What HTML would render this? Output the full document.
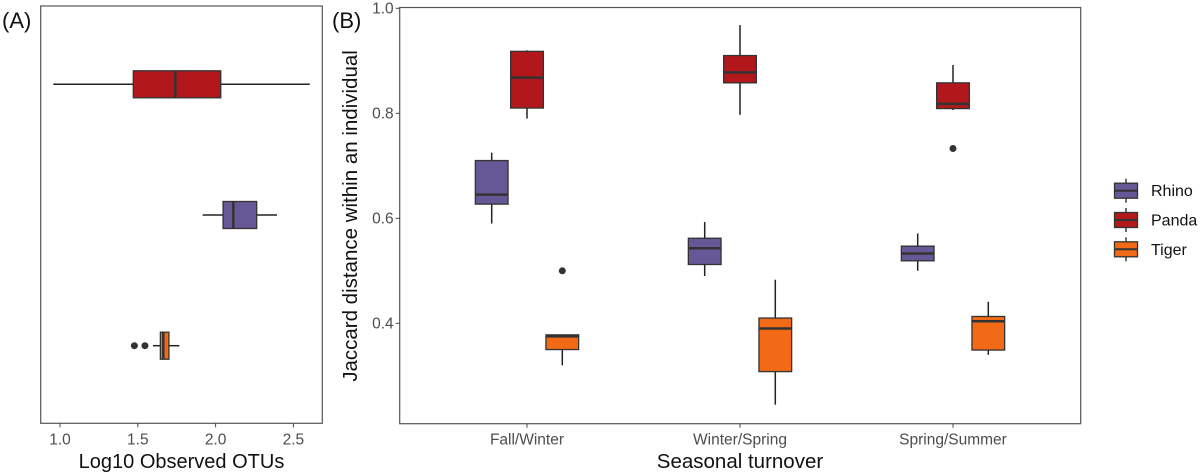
<!DOCTYPE html>
<html><head><meta charset="utf-8">
<style>
html,body{margin:0;padding:0;background:#fff;}
svg{display:block;font-family:"Liberation Sans",sans-serif;}
</style></head>
<body>
<svg id="chart" width="1200" height="475" viewBox="0 0 1200 475" xmlns="http://www.w3.org/2000/svg">
<g id="pa"></g>
<g id="pb"></g>
<g id="lg"></g>
</svg>
<script>
// Panel A data: [lowWhisker, q1, median, q3, highWhisker]
const aSpecies = ["Panda","Rhino","Tiger"];
const aStats = [
  [0.957,1.471,1.741,2.033,2.605],
  [1.917,2.048,2.114,2.264,2.395],
  [1.598,1.645,1.664,1.700,1.767]
];
const aOutliers = [[],[],[1.478,1.546]];
const aTicks = [1.0,1.5,2.0,2.5];

// Panel B data
const bCategories = ["Fall/Winter","Winter/Spring","Spring/Summer"];
const bSeries = ["Rhino","Panda","Tiger"];
const bRhino = [[0.59,0.627,0.645,0.71,0.725],[0.49,0.512,0.543,0.562,0.593],[0.50,0.519,0.533,0.547,0.571]];
const bPanda = [[0.79,0.81,0.868,0.918,0.92],[0.797,0.858,0.878,0.91,0.968],[0.806,0.809,0.818,0.858,0.892]];
const bTiger = [[0.32,0.35,0.375,0.378,0.378],[0.245,0.308,0.39,0.41,0.483],[0.34,0.349,0.404,0.413,0.441]];
const bOutRhino = [[],[],[]];
const bOutPanda = [[],[],[0.733]];
const bOutTiger = [[0.5],[],[]];
const bTicks = [0.4,0.6,0.8,1.0];

const colors = {Rhino:"#665796",Panda:"#b2181b",Tiger:"#f26a16"};
const NS="http://www.w3.org/2000/svg";
function mk(parent,tag,attrs,text){const e=document.createElementNS(NS,tag);for(const k in attrs)e.setAttribute(k,attrs[k]);if(text!==undefined)e.textContent=text;parent.appendChild(e);return e;}

// ---------- Panel A ----------
const pa=document.getElementById('pa');
const A={l:40.7,r:322.3,t:6,b:423.3};
const ax=v=>60+(v-1.0)*155.6;
const ayPos=[84.3,215,345.7];
mk(pa,'text',{x:2,y:28,'font-size':22,fill:'#111'},'(A)');
let fr=mk(pa,'rect',{x:A.l,y:A.t,width:A.r-A.l,height:A.b-A.t,fill:'none',stroke:'#555','stroke-width':1.2});


aTicks.forEach(t=>{
  const x=ax(t);
  mk(pa,'line',{x1:x,x2:x,y1:A.b,y2:A.b+4,stroke:'#444'});
  const tx=mk(pa,'text',{x:x,y:A.b+21,'font-size':15.5,fill:'#4d4d4d','text-anchor':'middle'},t.toFixed(1));
  
  
});
let xt=mk(pa,'text',{x:181.5,y:468,'font-size':20,fill:'#111','text-anchor':'middle'},'Log10 Observed OTUs');


aSpecies.forEach((sp,i)=>{
  const s=aStats[i],y=ayPos[i],h=27;
  const g=mk(pa,'g',{});
  
  
  mk(g,'line',{x1:ax(s[0]),x2:ax(s[1]),y1:y,y2:y,stroke:'#222','stroke-width':1.5});
  mk(g,'line',{x1:ax(s[3]),x2:ax(s[4]),y1:y,y2:y,stroke:'#222','stroke-width':1.5});
  mk(g,'rect',{x:ax(s[1]),y:y-h/2,width:ax(s[3])-ax(s[1]),height:h,fill:colors[sp],stroke:'#333','stroke-width':1.3});
  mk(g,'line',{x1:ax(s[2]),x2:ax(s[2]),y1:y-h/2,y2:y+h/2,stroke:'#333','stroke-width':2.5});
  aOutliers[i].forEach(o=>mk(g,'circle',{cx:ax(o),cy:y,r:3.5,fill:'#333'}));
});

// ---------- Panel B ----------
const pb=document.getElementById('pb');
const B={l:399.7,r:1080.7,t:7.5,b:423.7};
const by=v=>8.3+(1.0-v)*525;
const bx=i=>527+i*213;
const offs=[-35.3,0,35.3];
mk(pb,'text',{x:332,y:28,'font-size':22,fill:'#111'},'(B)');
let fb=mk(pb,'rect',{x:B.l,y:B.t,width:B.r-B.l,height:B.b-B.t,fill:'none',stroke:'#555','stroke-width':1.2});


bTicks.forEach(t=>{
  const y=by(t);
  mk(pb,'line',{x1:B.l-4,x2:B.l,y1:y,y2:y,stroke:'#444'});
  const tx=mk(pb,'text',{x:B.l-6,y:y+5,'font-size':15.5,fill:'#4d4d4d','text-anchor':'end'},t.toFixed(1));
  
  
});
bCategories.forEach((c,i)=>{
  mk(pb,'line',{x1:bx(i),x2:bx(i),y1:B.b,y2:B.b+4,stroke:'#444'});
  const tx=mk(pb,'text',{x:bx(i),y:B.b+21,'font-size':15.5,fill:'#4d4d4d','text-anchor':'middle'},c);
  
  
});
let bxt=mk(pb,'text',{x:740,y:468,'font-size':20.5,fill:'#111','text-anchor':'middle'},'Seasonal turnover');


let byt=mk(pb,'text',{x:0,y:0,'font-size':20.5,fill:'#111','text-anchor':'middle',transform:'translate(357,216) rotate(-90)'},'Jaccard distance within an individual');


const bData={Rhino:bRhino,Panda:bPanda,Tiger:bTiger};
const bOut={Rhino:bOutRhino,Panda:bOutPanda,Tiger:bOutTiger};
bSeries.forEach((sp,j)=>{
  bCategories.forEach((c,i)=>{
    const s=bData[sp][i],x=bx(i)+offs[j],w=32.7;
    const g=mk(pb,'g',{});
    
    
    mk(g,'line',{x1:x,x2:x,y1:by(s[0]),y2:by(s[4]),stroke:'#222','stroke-width':1.5});
    mk(g,'rect',{x:x-w/2,y:by(s[3]),width:w,height:by(s[1])-by(s[3]),fill:colors[sp],stroke:'#333','stroke-width':1.3});
    mk(g,'line',{x1:x-w/2,x2:x+w/2,y1:by(s[2]),y2:by(s[2]),stroke:'#333','stroke-width':2.5});
    bOut[sp][i].forEach(o=>mk(g,'circle',{cx:x,cy:by(o),r:3.5,fill:'#333'}));
  });
});

// ---------- Legend ----------
const lg=document.getElementById('lg');
const ly=[190.7,220,249.3];
bSeries.forEach((sp,j)=>{
  const g=mk(lg,'g',{});
  
  
  const y=ly[j];
  mk(g,'line',{x1:1126,x2:1126,y1:y-12,y2:y+12,stroke:'#222','stroke-width':1.3});
  mk(g,'rect',{x:1114.5,y:y-7.5,width:23,height:15,fill:colors[sp],stroke:'#333','stroke-width':1.3});
  mk(g,'line',{x1:1114.5,x2:1137.5,y1:y,y2:y,stroke:'#333','stroke-width':2});
  mk(g,'text',{x:1151,y:y+5.5,'font-size':16,fill:'#111'},sp);
});
</script>
</body></html>
